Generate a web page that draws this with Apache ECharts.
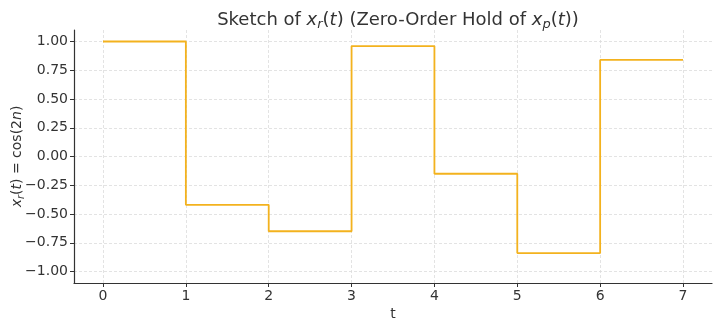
<!DOCTYPE html>
<html>
<head>
<meta charset="utf-8">
<script src="https://cdn.jsdelivr.net/npm/echarts@6/dist/echarts.min.js"></script>
<style>html,body{margin:0;padding:0;background:#fff}#c{width:720px;height:327px}</style>
</head>
<body>
<div id="c"></div>
<script>
// Data (t = n, x_r(t) = cos(2n) held until next sample)
const tValues = [0, 1, 2, 3, 4, 5, 6, 7];
const xrValues = [1.00, -0.42, -0.65, 0.96, -0.15, -0.84, 0.84, 0.84];
const xTicks = [0, 1, 2, 3, 4, 5, 6, 7];
const yTicks = [-1.00, -0.75, -0.50, -0.25, 0.00, 0.25, 0.50, 0.75, 1.00];

const FONT = 'DejaVu Sans';
const TXT = '#333333';
const chart = echarts.init(document.getElementById('c'), null, {renderer: 'canvas'});
const fmtY = v => (v < 0 ? '\u2212' : '') + Math.abs(v).toFixed(2);

chart.setOption({
  animation: false,
  backgroundColor: '#ffffff',
  title: {
    text: '{n|Sketch of }{i|x}{s|r}{n|(}{i|t}{n|) (Zero-Order Hold of }{i|x}{s|p}{n|(}{i|t}{n|))}',
    left: 393, top: 4, textAlign: 'center',
    textStyle: {
      fontFamily: FONT, fontSize: 18, color: TXT, fontWeight: 'normal',
      rich: {
        n: {fontFamily: FONT, fontSize: 18, color: TXT},
        i: {fontFamily: FONT, fontSize: 18, color: TXT, fontStyle: 'italic'},
        s: {fontFamily: FONT, fontSize: 13, color: TXT, fontStyle: 'italic', padding: [9, 0, 0, 0]}
      }
    }
  },
  grid: {left: 74, right: 8, top: 30, bottom: 44, containLabel: false, outerBoundsMode: 'none'},
  xAxis: {
    type: 'value', min: -0.35, max: 7.35,
    name: 't', nameLocation: 'middle', nameGap: 24, nameMoveOverlap: false,
    nameTextStyle: {fontFamily: FONT, fontSize: 14, color: TXT},
    axisLine: {show: true, onZero: false, lineStyle: {color: '#333', width: 1.2}},
    axisTick: {show: true, length: 4, customValues: xTicks, lineStyle: {color: '#333'}},
    axisLabel: {customValues: xTicks, fontFamily: FONT, fontSize: 14, color: TXT, margin: 6, formatter: v => String(v)},
    splitLine: {show: true, lineStyle: {color: '#dcdcdc', type: [3, 2], width: 0.8}}
  },
  yAxis: {
    type: 'value', min: -1.1, max: 1.1,
    name: '{i|x}{s|r}{n|(}{i|t}{n|) = cos(2}{i|n}{n|)}',
    nameLocation: 'middle', nameGap: 48, nameRotate: 90, nameMoveOverlap: false,
    nameTextStyle: {
      fontFamily: FONT, fontSize: 14, color: TXT,
      rich: {
        n: {fontFamily: FONT, fontSize: 14, color: TXT},
        i: {fontFamily: FONT, fontSize: 14, color: TXT, fontStyle: 'italic'},
        s: {fontFamily: FONT, fontSize: 10, color: TXT, fontStyle: 'italic', padding: [7, 0, 0, 0]}
      }
    },
    axisLine: {show: true, onZero: false, lineStyle: {color: '#333', width: 1.2}},
    axisTick: {show: true, length: 4, customValues: yTicks, lineStyle: {color: '#333'}},
    axisLabel: {customValues: yTicks, fontFamily: FONT, fontSize: 14, color: TXT, margin: 6, formatter: fmtY},
    splitLine: {show: true, lineStyle: {color: '#dcdcdc', type: [3, 2], width: 0.8}}
  },
  series: [{
    type: 'line', step: 'end', showSymbol: false,
    data: tValues.map((t, i) => [t, xrValues[i]]),
    lineStyle: {color: '#F3B21E', width: 1.8},
    itemStyle: {color: '#F3B21E'}
  }]
});
</script>
</body>
</html>
